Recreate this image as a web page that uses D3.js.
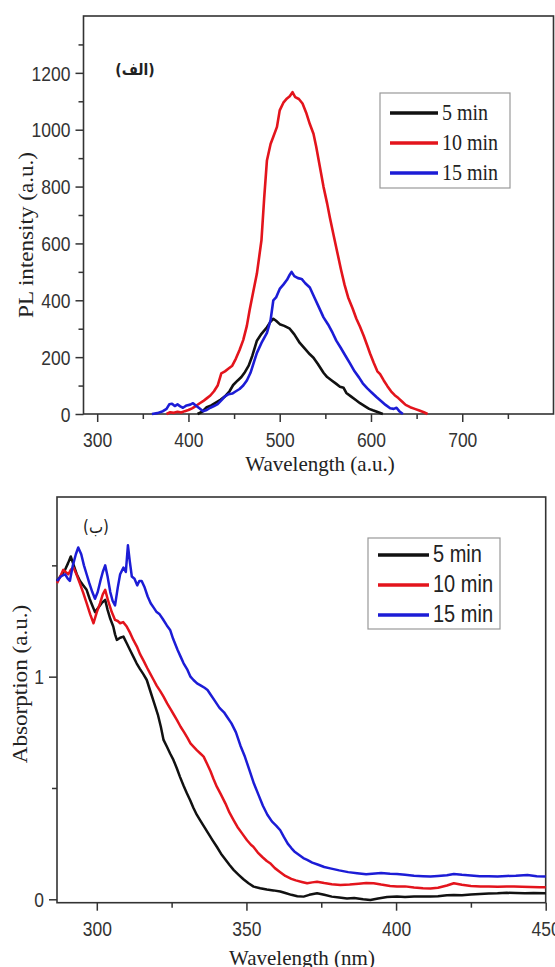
<!DOCTYPE html>
<html>
<head>
<meta charset="utf-8">
<script src="https://cdn.jsdelivr.net/npm/d3@7"></script>
<style>
  body { margin: 0; background: #fff; }
  svg { display: block; }
</style>
</head>
<body>
<svg width="555" height="967"></svg>
<script>
const SERIES = ['5 min', '10 min', '15 min']
const COLORS = ['#111111', '#e3141c', '#1c1cd6']

// top panel: photoluminescence
const plXTicks = [300, 400, 500, 600, 700]
const plXMinor = [350, 450, 550, 650, 750]
const plYTicks = [0, 200, 400, 600, 800, 1000, 1200]
const plYMinor = [100, 300, 500, 700, 900, 1100, 1300]

const pl5 = [[410, 0], [415, 8], [420, 24], [425, 30], [430, 40], [435, 50], [440, 62], [445, 80], [449, 102],
  [454, 118], [458, 130], [462, 148], [466, 170], [470, 205], [475, 258], [480, 282], [486, 305], [490, 325],
  [493, 335], [496, 328], [500, 316], [505, 310], [511, 300], [516, 280], [522, 250], [528, 228], [533, 210],
  [537, 198], [542, 175], [548, 145], [552, 130], [557, 118], [562, 106], [566, 96], [570, 92], [573, 74],
  [578, 62], [583, 50], [588, 38], [594, 26], [598, 18], [602, 13], [608, 6], [613, 0]]

const pl10 = [[376, 0], [380, 6], [384, 4], [388, 8], [392, 5], [396, 10], [400, 14], [404, 20], [408, 28],
  [412, 37], [416, 45], [420, 55], [424, 65], [428, 80], [432, 100], [436, 143], [440, 150], [444, 160],
  [448, 170], [452, 195], [456, 225], [460, 260], [464, 310], [467, 365], [471, 430], [475, 494], [480, 611],
  [483, 760], [486, 892], [490, 950], [493, 975], [497, 1010], [500, 1068], [504, 1095], [508, 1110],
  [511, 1118], [514, 1132], [517, 1115], [521, 1108], [525, 1092], [529, 1060], [533, 1020], [537, 986],
  [540, 940], [544, 870], [548, 799], [552, 740], [555, 690], [559, 630], [563, 570], [567, 510], [571, 455],
  [575, 410], [580, 370], [584, 335], [588, 307], [592, 275], [596, 240], [599, 213], [603, 180], [607, 150],
  [610, 140], [614, 118], [618, 98], [622, 80], [626, 66], [630, 56], [634, 44], [638, 32], [643, 24],
  [648, 18], [653, 12], [658, 6], [662, 0]]

const pl15 = [[360, 0], [366, 3], [372, 10], [376, 18], [379, 34], [382, 36], [385, 28], [388, 34], [391, 27],
  [394, 22], [398, 30], [402, 33], [405, 38], [408, 30], [412, 20], [416, 10], [420, 14], [424, 22], [428, 28],
  [432, 35], [436, 48], [440, 62], [444, 70], [448, 72], [452, 80], [456, 88], [460, 100], [464, 118],
  [468, 145], [472, 185], [475, 215], [480, 250], [486, 285], [490, 330], [493, 400], [496, 410], [500, 440],
  [504, 455], [508, 472], [511, 490], [513, 500], [516, 485], [520, 478], [524, 475], [528, 460], [533, 445],
  [538, 410], [543, 375], [548, 340], [553, 315], [558, 285], [562, 258], [567, 232], [572, 205], [577, 178],
  [582, 150], [587, 128], [591, 108], [596, 90], [601, 75], [606, 60], [611, 46], [616, 32], [621, 20],
  [625, 18], [628, 22], [631, 10], [635, 0]]

// bottom panel: absorption
const absXTicks = [300, 350, 400, 450]
const absXMinor = [325, 375, 425]
const absYTicks = [0, 1]
const absYMinor = [0.5, 1.5]

const abs5 = [[286.7, 1.43], [287.8, 1.45], [289.4, 1.48], [290.4, 1.51], [291.3, 1.54], [292.3, 1.5],
  [293.3, 1.46], [294.4, 1.43], [295.5, 1.41], [296.6, 1.39], [297.6, 1.35], [298.5, 1.32], [299.4, 1.29],
  [300.5, 1.31], [301.6, 1.33], [302.8, 1.345], [303.6, 1.3], [304.5, 1.26], [305.5, 1.225], [306.1, 1.19],
  [306.7, 1.165], [307.8, 1.175], [308.9, 1.18], [310, 1.15], [311.1, 1.12], [312.2, 1.09], [313.3, 1.06],
  [314.4, 1.035], [315.6, 1.01], [316.7, 0.985], [318, 0.93], [319.2, 0.88], [320.4, 0.83], [321.4, 0.775],
  [322.3, 0.716], [323.4, 0.686], [324.5, 0.655], [325.6, 0.626], [326.7, 0.59], [327.8, 0.55], [329, 0.51],
  [330.1, 0.476], [331.2, 0.445], [332.3, 0.41], [333.4, 0.38], [334.5, 0.356], [335.9, 0.325], [337.3, 0.295],
  [338.7, 0.265], [340.1, 0.236], [341.5, 0.205], [342.9, 0.18], [344.3, 0.155], [345.7, 0.132], [347.4, 0.11],
  [349, 0.09], [350.7, 0.072], [352.4, 0.057], [354.6, 0.05], [356.8, 0.044], [359, 0.04], [361.3, 0.035],
  [363, 0.028], [365, 0.02], [367, 0.014], [369.1, 0.012], [371, 0.02], [373.6, 0.027], [376, 0.02],
  [378.5, 0.012], [381, 0.008], [383.6, 0.004], [386, 0.006], [389, 0], [391.4, -0.003], [394, 0.004],
  [397, 0.01], [400.3, 0.012], [403, 0.01], [406, 0.013], [409, 0.012], [411.5, 0.012], [414, 0.014],
  [417, 0.018], [419.3, 0.019], [422, 0.018], [425, 0.022], [428, 0.024], [431, 0.026], [433.9, 0.027],
  [437, 0.029], [440, 0.028], [443, 0.027], [446, 0.028], [450, 0.027]]

const abs10 = [[286.7, 1.42], [287.8, 1.45], [288.8, 1.48], [289.6, 1.47], [290.5, 1.46], [291.3, 1.48],
  [292.2, 1.49], [293.2, 1.46], [294.3, 1.42], [295.5, 1.375], [296.6, 1.33], [297.8, 1.28], [298.9, 1.24],
  [300, 1.29], [301.1, 1.33], [302, 1.37], [302.8, 1.39], [303.8, 1.34], [305, 1.29], [306.1, 1.255],
  [307, 1.25], [307.8, 1.24], [308.8, 1.245], [310, 1.225], [311, 1.2], [312.2, 1.165], [313.4, 1.135],
  [314.5, 1.1], [315.7, 1.07], [316.8, 1.04], [317.8, 1.015], [319, 0.985], [320, 0.96], [321.2, 0.935],
  [322.3, 0.91], [323.5, 0.88], [324.6, 0.855], [325.7, 0.83], [326.8, 0.805], [328, 0.775], [329.2, 0.75],
  [330.3, 0.725], [331.3, 0.7], [332.3, 0.686], [333.4, 0.67], [334.6, 0.655], [335.7, 0.641], [336.8, 0.61],
  [338, 0.575], [339, 0.54], [340.1, 0.506], [341.5, 0.47], [343, 0.43], [344.3, 0.39], [345.7, 0.356],
  [347, 0.325], [348.6, 0.295], [350.2, 0.265], [351.5, 0.245], [352.3, 0.236], [353.8, 0.21], [355.3, 0.19],
  [356.8, 0.172], [357.9, 0.162], [359.5, 0.14], [361.3, 0.122], [363, 0.105], [365, 0.092], [366.5, 0.085],
  [368.5, 0.078], [370.3, 0.072], [372, 0.076], [373.6, 0.079], [376, 0.073], [378.5, 0.068], [381.4, 0.064],
  [384.5, 0.066], [387.5, 0.07], [390, 0.073], [392.5, 0.072], [395, 0.066], [398, 0.06], [400.3, 0.057],
  [403, 0.058], [406, 0.053], [409, 0.05], [411.5, 0.049], [414, 0.052], [417, 0.062], [419.3, 0.072],
  [422, 0.065], [425, 0.06], [428.2, 0.057], [431, 0.058], [434, 0.056], [437, 0.058], [439.4, 0.057],
  [442, 0.056], [445, 0.055], [448, 0.054], [450, 0.054]]

const abs15 = [[286.7, 1.43], [288, 1.45], [289.4, 1.46], [290.3, 1.44], [291, 1.43], [292, 1.5], [293, 1.55],
  [293.8, 1.58], [294.8, 1.55], [295.7, 1.5], [296.6, 1.46], [297.5, 1.42], [298.5, 1.38], [299.4, 1.35],
  [300.3, 1.38], [301.2, 1.43], [302, 1.47], [302.8, 1.5], [303.6, 1.45], [304.5, 1.38], [305.3, 1.34],
  [306.1, 1.32], [307, 1.4], [307.8, 1.46], [308.9, 1.49], [309.7, 1.47], [310.4, 1.59], [311, 1.52],
  [311.7, 1.45], [312.6, 1.44], [313.5, 1.41], [314.2, 1.43], [315, 1.43], [316, 1.4], [317, 1.36], [318, 1.33],
  [319, 1.31], [320, 1.29], [321, 1.28], [322, 1.26], [323.4, 1.23], [324.5, 1.21], [325.5, 1.17], [327, 1.12],
  [328, 1.09], [329, 1.06], [330.3, 1.03], [331.3, 1.0], [332.3, 0.985], [333.5, 0.97], [334.8, 0.96],
  [336, 0.95], [337, 0.94], [338, 0.92], [339.5, 0.89], [341, 0.86], [342.5, 0.84], [343.5, 0.82], [345, 0.79],
  [346.5, 0.75], [348, 0.69], [349.5, 0.64], [351, 0.58], [352.5, 0.52], [354, 0.47], [355.5, 0.42],
  [357, 0.38], [358.5, 0.35], [360, 0.33], [361.3, 0.31], [362.5, 0.28], [363.8, 0.25], [365, 0.23],
  [366, 0.215], [367.5, 0.2], [369, 0.185], [370.3, 0.177], [372, 0.165], [374, 0.155], [376, 0.145],
  [378, 0.139], [381, 0.13], [384, 0.122], [387, 0.117], [390, 0.112], [392, 0.115], [395, 0.118],
  [398, 0.115], [400.3, 0.114], [403, 0.11], [406, 0.106], [409, 0.104], [411.5, 0.102], [414, 0.105],
  [417, 0.108], [419.3, 0.114], [422, 0.11], [425, 0.107], [428, 0.104], [431, 0.103], [433.9, 0.102],
  [437, 0.105], [440, 0.106], [443.9, 0.109], [447, 0.104], [450, 0.102]]

// the source picture is stretched vertically a little; most texts follow it
const K = 1.15
const SANS = 'Liberation Sans, Arial, sans-serif'
const SERIF = 'Liberation Serif, Times New Roman, serif'
const INK = '#333'

const svg = d3.select('svg')
svg.append('rect').attr('width', 555).attr('height', 967).attr('fill', '#fff')

function panel ({ box, xDomain, yDomain, xTicks, xMinor, yTicks, yMinor, series, lineWidth, xLabelPos, yLabelPos, xLabel, yLabel, legend, tag }) {
  const x = d3.scaleLinear().domain(xDomain).range([box.left, box.right])
  const y = d3.scaleLinear().domain(yDomain).range([box.bottom, box.top])
  const g = svg.append('g')

  const xAxis = g.append('g')
    .attr('transform', `translate(0,${box.bottom})`)
    .call(d3.axisBottom(x).tickValues(xTicks).tickSize(8).tickSizeOuter(0).tickFormat(d3.format('d')))
  g.append('g')
    .attr('transform', `translate(0,${box.bottom})`)
    .call(d3.axisBottom(x).tickValues(xMinor).tickSize(5).tickSizeOuter(0).tickFormat(''))
  const yAxis = g.append('g')
    .attr('transform', `translate(${box.left},0)`)
    .call(d3.axisLeft(y).tickValues(yTicks).tickSize(8).tickSizeOuter(0).tickFormat(d3.format('d')))
  g.append('g')
    .attr('transform', `translate(${box.left},0)`)
    .call(d3.axisLeft(y).tickValues(yMinor).tickSize(5).tickSizeOuter(0).tickFormat(''))

  g.selectAll('.domain').remove()
  g.selectAll('.tick line').attr('stroke', INK).attr('stroke-width', 1.5)

  xAxis.selectAll('.tick text')
    .attr('y', 0).attr('dy', null)
    .attr('transform', `translate(0,33) scale(1,${K})`)
  yAxis.selectAll('.tick text')
    .attr('x', 0).attr('dy', '0.36em')
    .attr('transform', `translate(-13,0) scale(1,${K})`)
  g.selectAll('.tick text')
    .attr('fill', INK)
    .style('font-family', SANS)
    .style('font-size', '17.5px')

  g.append('rect')
    .attr('x', box.left).attr('y', box.top)
    .attr('width', box.right - box.left).attr('height', box.bottom - box.top)
    .attr('fill', 'none').attr('stroke', INK).attr('stroke-width', 1.6)

  const line = d3.line().x(d => x(d[0])).y(d => y(d[1]))
  g.selectAll('.curve')
    .data(series)
    .enter().append('path')
    .attr('class', 'curve')
    .attr('d', d => line(d))
    .attr('fill', 'none')
    .attr('stroke', (d, i) => COLORS[i])
    .attr('stroke-width', lineWidth)
    .attr('stroke-linejoin', 'round')

  g.append('text')
    .attr('transform', `translate(${xLabelPos[0]},${xLabelPos[1]})`)
    .attr('text-anchor', 'middle')
    .style('font-family', SERIF).style('font-size', '21px')
    .attr('fill', '#222')
    .text(xLabel)
  g.append('text')
    .attr('transform', `translate(${yLabelPos[0]},${yLabelPos[1]}) rotate(-90) scale(1.1,1)`)
    .attr('text-anchor', 'middle')
    .style('font-family', SERIF).style('font-size', '21px')
    .attr('fill', '#222')
    .text(yLabel)

  g.append('text')
    .attr('transform', `translate(${tag.x},${tag.y}) scale(1,${K})`)
    .attr('text-anchor', 'middle')
    .style('font-family', 'DejaVu Sans, sans-serif')
    .style('font-size', tag.size + 'px')
    .style('font-weight', tag.weight)
    .attr('fill', '#222')
    .text(tag.text)

  const lg = g.append('g')
  lg.append('rect')
    .attr('x', legend.x).attr('y', legend.y)
    .attr('width', legend.w).attr('height', legend.h)
    .attr('fill', '#fff').attr('stroke', '#999').attr('stroke-width', 1.2)
  SERIES.forEach((name, i) => {
    const ly = legend.y + legend.first + i * legend.step
    lg.append('line')
      .attr('x1', legend.x + 10).attr('x2', legend.x + 10 + legend.len)
      .attr('y1', ly).attr('y2', ly)
      .attr('stroke', COLORS[i]).attr('stroke-width', 3.5)
    lg.append('text')
      .attr('transform', `translate(${legend.x + 14 + legend.len},${ly + 7}) scale(1,${K})`)
      .style('font-family', legend.font).style('font-size', '20px')
      .attr('fill', '#222')
      .text(name)
  })
}

panel({
  box: { left: 83.5, right: 553.5, top: 16, bottom: 414 },
  xDomain: [285, 800],
  yDomain: [0, 1400],
  xTicks: plXTicks,
  xMinor: plXMinor,
  yTicks: plYTicks,
  yMinor: plYMinor,
  series: [pl5, pl10, pl15],
  lineWidth: 2.6,
  xLabel: 'Wavelength (a.u.)',
  xLabelPos: [320, 471],
  yLabel: 'PL intensity (a.u.)',
  yLabelPos: [33, 235],
  tag: { text: '(الف)', x: 135, y: 75, size: 14, weight: 'bold' },
  legend: { x: 380, y: 93, w: 130, h: 95, first: 20, step: 30, len: 48, font: SERIF }
})

panel({
  box: { left: 57, right: 545.7, top: 497, bottom: 902.7 },
  xDomain: [286.7, 450],
  yDomain: [-0.0153, 1.807],
  xTicks: absXTicks,
  xMinor: absXMinor,
  yTicks: absYTicks,
  yMinor: absYMinor,
  series: [abs5, abs10, abs15],
  lineWidth: 2.5,
  xLabel: 'Wavelength (nm)',
  xLabelPos: [302, 965],
  yLabel: 'Absorption (a.u.)',
  yLabelPos: [27, 684],
  tag: { text: '(ب)', x: 96, y: 533, size: 15, weight: 'normal' },
  legend: { x: 368, y: 538, w: 132, h: 91, first: 17, step: 30, len: 51, font: SANS }
})
</script>
</body>
</html>
